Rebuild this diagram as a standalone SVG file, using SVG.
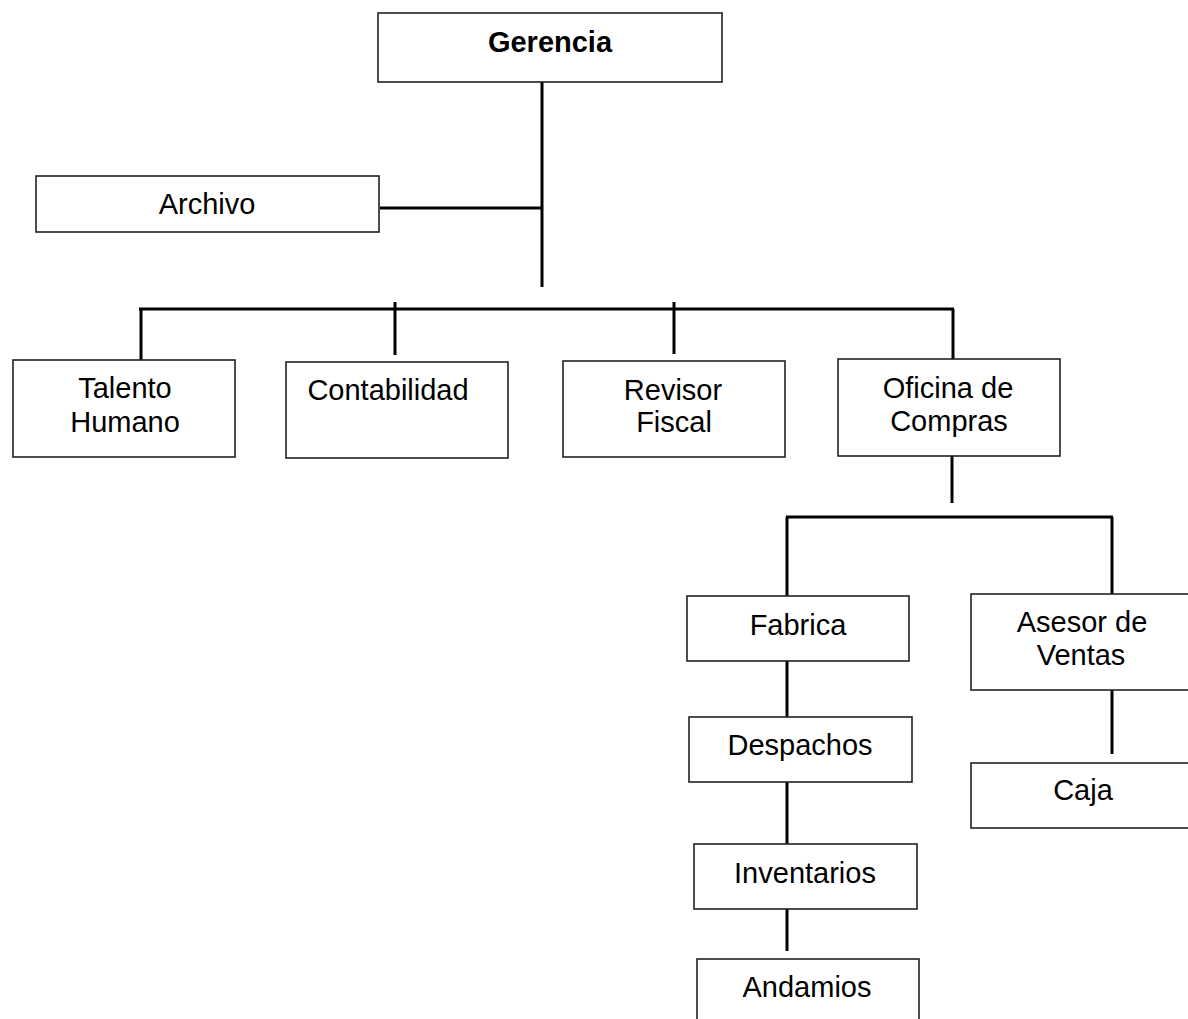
<svg xmlns="http://www.w3.org/2000/svg" width="1188" height="1019" viewBox="0 0 1188 1019">
<style>
  .box { fill: #ffffff; stroke: #222222; stroke-width: 1.6; }
  .lbl { font-family: "Liberation Sans", Arial, sans-serif; font-size: 29px; fill: #000000; text-anchor: middle; }
  .bold { font-weight: bold; }
  .conn line { stroke: #000000; stroke-width: 3; }
</style>
<rect x="0" y="0" width="1188" height="1019" fill="#ffffff"/>
<g id="connectors" class="conn">
  <line x1="542" y1="82" x2="542" y2="287"/>
  <line x1="380" y1="208" x2="542" y2="208"/>
  <line x1="139" y1="309" x2="954" y2="309"/>
  <line x1="141" y1="309" x2="141" y2="360"/>
  <line x1="395" y1="302" x2="395" y2="355"/>
  <line x1="674" y1="302" x2="674" y2="354"/>
  <line x1="953" y1="309" x2="953" y2="359"/>
  <line x1="952" y1="456" x2="952" y2="503"/>
  <line x1="786" y1="517" x2="1113" y2="517"/>
  <line x1="787" y1="517" x2="787" y2="596"/>
  <line x1="1112" y1="517" x2="1112" y2="594"/>
  <line x1="787" y1="661" x2="787" y2="717"/>
  <line x1="787" y1="782" x2="787" y2="844"/>
  <line x1="787" y1="909" x2="787" y2="951"/>
  <line x1="1112" y1="690" x2="1112" y2="754"/>
</g>
<g id="gerencia">
  <rect class="box" x="378" y="13" width="344" height="69"/>
  <text class="lbl bold" x="550" y="52">Gerencia</text>
</g>
<g id="archivo">
  <rect class="box" x="36" y="176" width="343" height="56"/>
  <text class="lbl" x="207" y="214">Archivo</text>
</g>
<g id="talento-humano">
  <rect class="box" x="13" y="360" width="222" height="97"/>
  <text class="lbl" x="125" y="398">Talento</text>
  <text class="lbl" x="125" y="432">Humano</text>
</g>
<g id="contabilidad">
  <rect class="box" x="286" y="362" width="222" height="96"/>
  <text class="lbl" x="388" y="400">Contabilidad</text>
</g>
<g id="revisor-fiscal">
  <rect class="box" x="563" y="361" width="222" height="96"/>
  <text class="lbl" x="673" y="400">Revisor</text>
  <text class="lbl" x="674" y="432">Fiscal</text>
</g>
<g id="oficina-compras">
  <rect class="box" x="838" y="359" width="222" height="97"/>
  <text class="lbl" x="948" y="398">Oficina de</text>
  <text class="lbl" x="949" y="431">Compras</text>
</g>
<g id="fabrica">
  <rect class="box" x="687" y="596" width="222" height="65"/>
  <text class="lbl" x="798" y="635">Fabrica</text>
</g>
<g id="asesor-ventas">
  <rect class="box" x="971" y="594" width="240" height="96"/>
  <text class="lbl" x="1082" y="632">Asesor de</text>
  <text class="lbl" x="1081" y="665">Ventas</text>
</g>
<g id="despachos">
  <rect class="box" x="689" y="717" width="223" height="65"/>
  <text class="lbl" x="800" y="755">Despachos</text>
</g>
<g id="caja">
  <rect class="box" x="971" y="763" width="240" height="65"/>
  <text class="lbl" x="1083" y="800">Caja</text>
</g>
<g id="inventarios">
  <rect class="box" x="694" y="844" width="223" height="65"/>
  <text class="lbl" x="805" y="883">Inventarios</text>
</g>
<g id="andamios">
  <rect class="box" x="697" y="959" width="222" height="70"/>
  <text class="lbl" x="807" y="997">Andamios</text>
</g>
</svg>
